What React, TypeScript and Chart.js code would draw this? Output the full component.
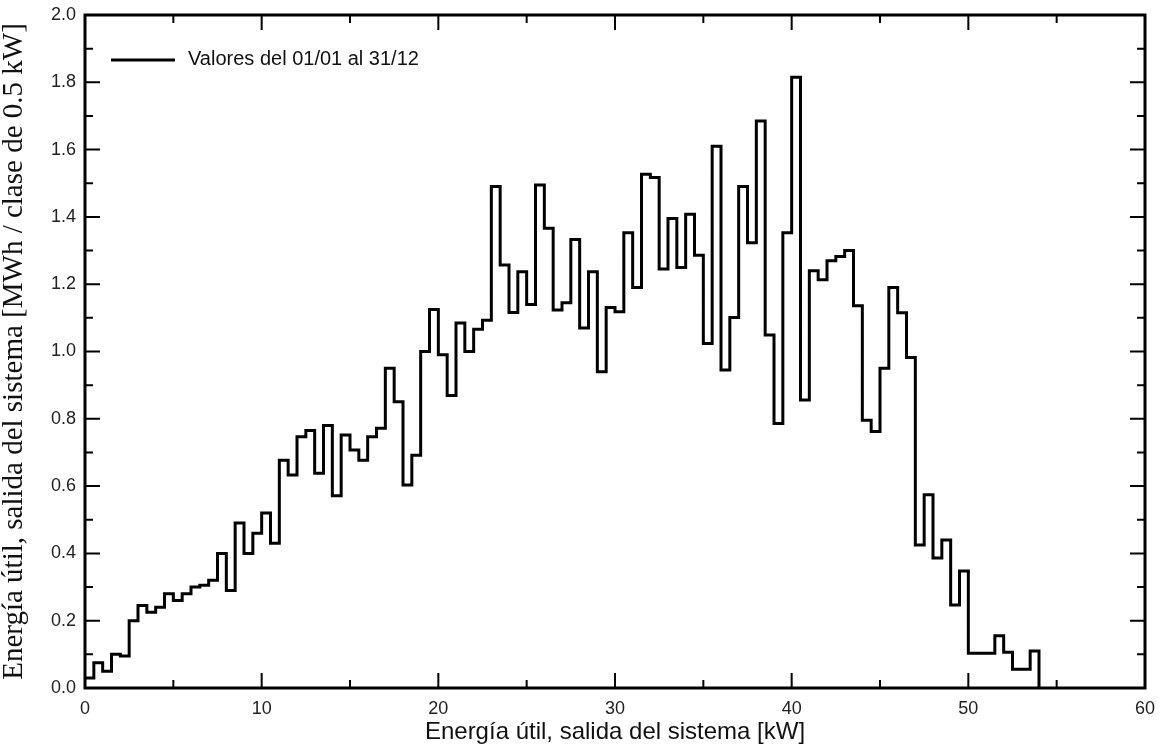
import React, { useEffect, useRef } from "react";
import { Chart, registerables } from "chart.js";

Chart.register(...registerables);

// ---- data ----
const CLASS_WIDTH = 0.5; // kW per class
const ENERGY_PER_CLASS: number[] = [
  0.03, 0.075, 0.05, 0.1, 0.095, 0.2, 0.245, 0.225, 0.24, 0.28, 0.26, 0.28, 0.3, 0.305, 0.32, 0.4, 0.29, 0.49, 0.4, 0.46, 0.52, 0.43,
  0.677, 0.633, 0.747, 0.765, 0.638, 0.78, 0.571, 0.752, 0.707, 0.677, 0.747, 0.772, 0.95, 0.851, 0.603, 0.692,
  1.0, 1.125, 0.99, 0.869, 1.085, 1.0, 1.066, 1.093, 1.49, 1.257, 1.116, 1.237, 1.14, 1.495, 1.366, 1.123, 1.145, 1.333, 1.07, 1.237, 0.94, 1.131, 1.118,
  1.353, 1.19, 1.527, 1.517, 1.245, 1.395, 1.25, 1.408, 1.286, 1.024, 1.61, 0.945, 1.101, 1.49, 1.323, 1.685, 1.049, 0.786, 1.353, 1.815,
  0.856, 1.24, 1.213, 1.27, 1.282, 1.3, 1.136, 0.796, 0.762, 0.95, 1.19, 1.115, 0.982, 0.425, 0.574, 0.386, 0.44, 0.247, 0.348, 0.103, 0.103, 0.103, 0.155, 0.106, 0.056, 0.056, 0.11,
];
const X_MIN = 0;
const X_MAX = 60;
const X_LABEL_STEP = 10;
const X_TICK_STEP = 5;
const Y_MIN = 0;
const Y_MAX = 2;
const Y_LABEL_STEP = 0.2;
const Y_TICK_STEP = 0.1;
const SERIES_LABEL = "Valores del 01/01 al 31/12";
const X_TITLE = "Energía útil, salida del sistema [kW]";
const Y_TITLE = "Energía útil, salida del sistema [MWh / clase de 0.5 kW]";

const SANS = "'Liberation Sans', Arial, sans-serif";
const SERIF = "'Liberation Serif', 'Times New Roman', serif";

const framePlugin = {
  id: "frameTicks",
  afterDatasetsDraw(chart: any) {
    const { ctx, chartArea, scales } = chart;
    const { left, right, top, bottom } = chartArea;
    const xs = scales.x;
    const ys = scales.y;
    ctx.save();
    ctx.strokeStyle = "#000";
    ctx.lineWidth = 2;
    ctx.beginPath();
    const nx = Math.round((X_MAX - X_MIN) / X_TICK_STEP);
    for (let i = 0; i <= nx; i++) {
      const v = X_MIN + i * X_TICK_STEP;
      const px = xs.getPixelForValue(v);
      const major = Math.abs(v / X_LABEL_STEP - Math.round(v / X_LABEL_STEP)) < 1e-6;
      const len = major ? 15 : 8;
      ctx.moveTo(px, bottom);
      ctx.lineTo(px, bottom - len);
      ctx.moveTo(px, top);
      ctx.lineTo(px, top + len);
    }
    const ny = Math.round((Y_MAX - Y_MIN) / Y_TICK_STEP);
    for (let i = 0; i <= ny; i++) {
      const v = Y_MIN + i * Y_TICK_STEP;
      const py = ys.getPixelForValue(v);
      const major = i % 2 === 0;
      const len = major ? 15 : 8;
      ctx.moveTo(left, py);
      ctx.lineTo(left + len, py);
      ctx.moveTo(right, py);
      ctx.lineTo(right - len, py);
    }
    ctx.stroke();
    ctx.lineWidth = 3;
    ctx.strokeRect(left, top, right - left, bottom - top);

    // legend inside plot
    const ly = top + 45;
    ctx.lineWidth = 3;
    ctx.beginPath();
    ctx.moveTo(left + 26, ly);
    ctx.lineTo(left + 90, ly);
    ctx.stroke();
    ctx.fillStyle = "#111";
    ctx.font = `20px ${SANS}`;
    ctx.textBaseline = "middle";
    ctx.textAlign = "left";
    ctx.fillText(chart.data.datasets[0].label, left + 103, ly - 1);
    ctx.restore();
  },
};

export default function App() {
  const canvasRef = useRef<HTMLCanvasElement | null>(null);

  useEffect(() => {
    if (!canvasRef.current) return;
    const points = ENERGY_PER_CLASS.map((v, i) => ({ x: X_MIN + i * CLASS_WIDTH, y: v }));
    points.push({ x: X_MIN + ENERGY_PER_CLASS.length * CLASS_WIDTH, y: 0 });

    const chart = new Chart(canvasRef.current, {
      type: "line",
      data: {
        datasets: [
          {
            label: SERIES_LABEL,
            data: points,
            stepped: "before",
            borderColor: "#000",
            borderWidth: 3,
            pointRadius: 0,
            fill: false,
            borderJoinStyle: "miter",
          },
        ],
      },
      options: {
        animation: false,
        responsive: false,
        devicePixelRatio: 1,
        layout: { padding: { top: 15, right: 19, left: 0, bottom: 0 } },
        plugins: {
          legend: { display: false },
          tooltip: { enabled: false },
        },
        scales: {
          x: {
            type: "linear",
            min: X_MIN,
            max: X_MAX,
            grid: { display: false, drawTicks: false },
            border: { display: false },
            ticks: {
              stepSize: X_LABEL_STEP,
              padding: 10,
              color: "#222",
              font: { family: SANS, size: 18 },
              maxRotation: 0,
            },
            title: {
              display: true,
              text: X_TITLE,
              color: "#111",
              font: { family: SANS, size: 24 },
              padding: { top: 0, bottom: 4 },
            },
            afterFit(scale: any) {
              scale.height = 63;
              scale.paddingLeft = 0;
              scale.paddingRight = 0;
            },
          },
          y: {
            type: "linear",
            min: Y_MIN,
            max: Y_MAX,
            grid: { display: false, drawTicks: false },
            border: { display: false },
            ticks: {
              stepSize: Y_LABEL_STEP,
              padding: 9,
              color: "#222",
              font: { family: SANS, size: 18 },
              callback: (v: any) => Number(v).toFixed(1),
            },
            title: {
              display: true,
              text: Y_TITLE,
              color: "#111",
              font: { family: SERIF, size: 29, lineHeight: 1 },
              padding: { top: 0, bottom: 0 },
            },
            afterFit(scale: any) {
              scale.width = 85;
              scale.paddingTop = 0;
              scale.paddingBottom = 0;
            },
          },
        },
      },
      plugins: [framePlugin],
    });
    return () => chart.destroy();
  }, []);

  return (
    <div style={{ position: "fixed", left: 0, top: 0, width: 1164, height: 751, background: "#fff" }}>
      <canvas ref={canvasRef} width={1164} height={751} style={{ width: 1164, height: 751 }} />
    </div>
  );
}
